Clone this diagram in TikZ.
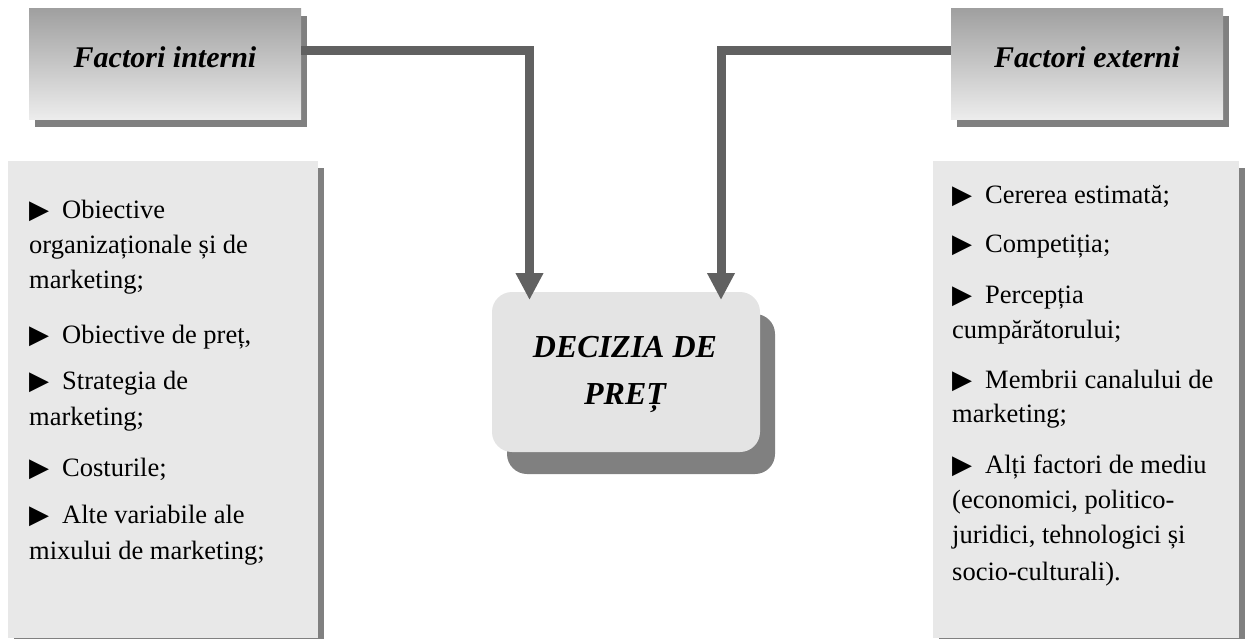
\documentclass[tikz,border=0pt]{standalone}
\usepackage{fontspec}
\setmainfont{Liberation Serif}
\newfontfamily\symfont{DejaVu Sans}
\usetikzlibrary{arrows.meta,shadows}

\definecolor{shadowgray}{HTML}{808080}
\definecolor{linkgray}{HTML}{616161}
\definecolor{paneltop}{HTML}{A0A0A0}
\definecolor{panelbot}{HTML}{EDEDED}
\definecolor{listfill}{HTML}{E8E8E8}
\definecolor{decfill}{HTML}{E4E4E4}

% bullet that opens each list entry
\newcommand\itembul{\makebox[33pt][l]{\symfont\fontsize{26}{26}\selectfont ▶}}

\begin{document}
\begin{tikzpicture}[x=1pt,y=-1pt,
  heading/.style={rectangle, draw=none, inner sep=0pt,
    minimum width=272pt, minimum height=111pt,
    top color=paneltop, bottom color=panelbot,
    drop shadow={shadow xshift=6pt, shadow yshift=-7pt, fill=shadowgray, opacity=1}},
  headtext/.style={anchor=base, inner sep=0pt,
    font=\fontsize{30}{36}\selectfont\bfseries\itshape},
  listbox/.style={rectangle, draw=none, inner sep=0pt,
    minimum height=477pt, fill=listfill,
    drop shadow={shadow xshift=6pt, shadow yshift=-7pt, fill=shadowgray, opacity=1}},
  listline/.style={anchor=base west, inner sep=0pt,
    font=\fontsize{26.5}{32}\selectfont},
  decision/.style={rectangle, rounded corners=20pt, draw=none, fill=decfill,
    inner sep=0pt, minimum width=268pt, minimum height=160pt,
    drop shadow={shadow xshift=15pt, shadow yshift=-22pt, fill=shadowgray, opacity=1}},
  dectext/.style={anchor=base, inner sep=0pt,
    font=\fontsize{32}{40}\selectfont\bfseries\itshape},
  link/.style={draw=linkgray, line width=9pt, line join=miter,
    -{Triangle[width=26pt,length=27pt]}}
]
\useasboundingbox (0,0) rectangle (1246,639);
\clip (0,0) rectangle (1246,639);

% heading panels
\node[heading] (tl) at (165,64.5) {};
\node[headtext] (tlt) at (165,68) {Factori interni};
\node[heading] (tr) at (1087,64.5) {};
\node[headtext] (trt) at (1087,68) {Factori externi};

% list panels
\node[listbox, minimum width=310pt] (lb) at (163,399.5) {};
\node[listbox, minimum width=306pt] (rb) at (1086,399.5) {};

\foreach \yy/\tx [count=\k] in {
  218/{\itembul Obiective},
  253/{organizaționale și de},
  288/{marketing;},
  343/{\itembul Obiective de preț,},
  389/{\itembul Strategia de},
  425/{marketing;},
  476/{\itembul Costurile;},
  523/{\itembul Alte variabile ale},
  559/{mixului de marketing;}}
  \node[listline] (li\k) at (29,\yy) {\tx};

\foreach \yy/\tx [count=\k] in {
  203/{\itembul Cererea estimată;},
  252/{\itembul Competiția;},
  303/{\itembul Percepția},
  338/{cumpărătorului;},
  388/{\itembul Membrii canalului de},
  422/{marketing;},
  473/{\itembul Alți factori de mediu},
  508/{(economici, politico-},
  543/{juridici, tehnologici și},
  580/{socio-culturali).}}
  \node[listline] (ri\k) at (952,\yy) {\tx};

% decision box
\node[decision] (dec) at (626,372) {};
\node[dectext] (dec1) at (625,357) {DECIZIA DE};
\node[dectext] (dec2) at (625,404) {PREȚ};

% connectors
\coordinate (aL) at (529.5,300);
\coordinate (aR) at (721,300);
\draw[link] ([yshift=14pt]tl.east) -| (aL);
\draw[link] ([yshift=14pt]tr.west) -| (aR);
\end{tikzpicture}
\end{document}
